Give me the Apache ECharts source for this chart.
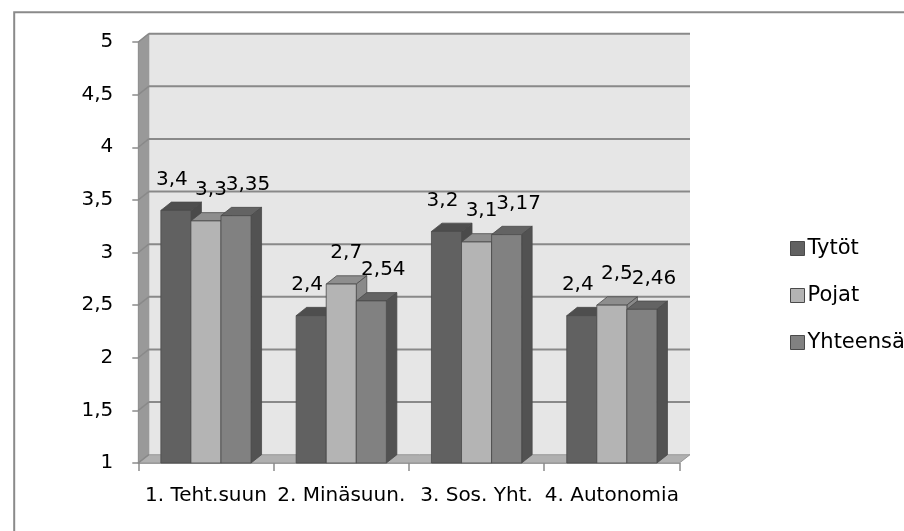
<!DOCTYPE html>
<html>
<head>
<meta charset="utf-8">
<script src="https://cdn.jsdelivr.net/npm/echarts@6/dist/echarts.min.js"></script>
<style>
  html, body { margin: 0; padding: 0; background: #fff; }
  #chart { width: 904px; height: 531px; }
</style>
</head>
<body>
<div id="chart"></div>
<script>
// Category names along the horizontal axis
const categories = ['1. Teht.suun', '2. Minäsuun.', '3. Sos. Yht.', '4. Autonomia'];

// Series values
const tytot = [3.4, 2.4, 3.2, 2.4];
const pojat = [3.3, 2.7, 3.1, 2.5];
const yhteensa = [3.35, 2.54, 3.17, 2.46];

const seriesNames = ['Tytöt', 'Pojat', 'Yhteensä'];

// Value-axis ticks
const yTicks = [1, 1.5, 2, 2.5, 3, 3.5, 4, 4.5, 5];

const Y_MIN = yTicks[0];
const Y_MAX = yTicks[yTicks.length - 1];
const Y_STEP = yTicks[1] - yTicks[0];

// Oblique depth of the pseudo-3D box and columns
const DX = 10.5, DY = -8.3;
const GAP = 1.5; // gap between groups, in column widths
const FAMILY = '"DejaVu Sans", sans-serif';
const FONT = '20px "DejaVu Sans", sans-serif';

const fmt = v => String(v).replace('.', ',');

// Face colours for each series: front, top, side
const palette = [
  { front: '#616161', top: '#4e4e4e', side: '#4a4a4a' },
  { front: '#b4b4b4', top: '#8e8e8e', side: '#8a8a8a' },
  { front: '#818181', top: '#636363', side: '#525252' }
];
const labelShift = [-4, 5, 12];

function columnRenderer(idx) {
  const c = palette[idx];
  return function (params, api) {
    const cat = api.value(0);
    const val = api.value(1);
    const base = api.coord([cat, Y_MIN]);
    const top = api.coord([cat, val]);
    const band = api.size([1, 0])[0];
    const w = band / (3 + GAP);
    const x0 = base[0] - 1.5 * w + idx * w;
    const x1 = x0 + w;
    const y0 = top[1];
    const y1 = base[1];
    const stroke = '#4a4a4a';
    return {
      type: 'group',
      children: [
        { type: 'polygon', shape: { points: [[x0, y0], [x0 + DX, y0 + DY], [x1 + DX, y0 + DY], [x1, y0]] },
          style: { fill: c.top, stroke: stroke, lineWidth: 0.8 } },
        { type: 'polygon', shape: { points: [[x1, y0], [x1 + DX, y0 + DY], [x1 + DX, y1 + DY], [x1, y1]] },
          style: { fill: c.side, stroke: stroke, lineWidth: 0.8 } },
        { type: 'rect', shape: { x: x0, y: y0, width: w, height: y1 - y0 },
          style: { fill: c.front, stroke: stroke, lineWidth: 0.8 } },
        { type: 'text', x: (x0 + x1) / 2 + labelShift[idx], y: y0 - 31, z2: 100,
          style: { text: fmt(val), font: FONT, fill: '#000', align: 'center', verticalAlign: 'middle' } }
      ]
    };
  };
}

// Back wall, side wall, floor and gridlines of the box
function frameRenderer(params, api) {
  const band = api.size([1, 0])[0];
  const L = api.coord([0, Y_MIN])[0] - band / 2;
  const R = api.coord([categories.length - 1, Y_MIN])[0] + band / 2;
  const yTop = api.coord([0, Y_MAX])[1];
  const yBot = api.coord([0, Y_MIN])[1];
  const grid = '#898989';
  const children = [
    { type: 'rect', shape: { x: L + DX, y: yTop + DY, width: R - L, height: yBot - yTop },
      style: { fill: '#e6e6e6' } },
    { type: 'polygon', shape: { points: [[L, yTop], [L + DX, yTop + DY], [L + DX, yBot + DY], [L, yBot]] },
      style: { fill: '#999999', stroke: '#8a8a8a', lineWidth: 0.8 } },
    { type: 'polygon', shape: { points: [[L, yBot], [L + DX, yBot + DY], [R + DX, yBot + DY], [R, yBot]] },
      style: { fill: '#b0b0b0', stroke: '#8a8a8a', lineWidth: 0.8 } }
  ];
  yTicks.forEach(t => {
    const y = api.coord([0, t])[1];
    children.push({ type: 'line', shape: { x1: L, y1: y, x2: L + DX, y2: y + DY },
      style: { stroke: grid, lineWidth: 1.5 } });
    if (t !== Y_MIN) {
      children.push({ type: 'line', shape: { x1: L + DX, y1: y + DY, x2: R + DX, y2: y + DY },
        style: { stroke: grid, lineWidth: 2 } });
    }
  });
  return { type: 'group', children: children };
}

const seriesValues = [tytot, pojat, yhteensa];

const chart = echarts.init(document.getElementById('chart'), null, { renderer: 'canvas' });

chart.setOption({
  animation: false,
  backgroundColor: '#ffffff',
  graphic: [{
    type: 'rect', left: 11.7, top: 9.7, silent: true,
    shape: { x: 0, y: 0, width: 1000, height: 600 },
    style: { fill: 'none', stroke: '#8a8a8a', lineWidth: 2 }
  }],
  grid: { left: 138.3, right: 224.5, top: 42, bottom: 68, containLabel: false },
  xAxis: {
    type: 'category',
    data: categories,
    axisLine: { show: true, lineStyle: { color: '#8c8c8c', width: 1.5 } },
    axisTick: { show: true, length: 8, lineStyle: { color: '#8c8c8c', width: 1.5 } },
    axisLabel: { color: '#000', fontSize: 20, fontFamily: FAMILY, margin: 23, interval: 0 },
    splitLine: { show: false }
  },
  yAxis: {
    type: 'value',
    min: Y_MIN, max: Y_MAX, interval: Y_STEP,
    axisLine: { show: true, lineStyle: { color: '#8c8c8c', width: 1.5 } },
    axisTick: { show: true, length: 6, lineStyle: { color: '#8c8c8c', width: 1.5 } },
    axisLabel: { color: '#000', fontSize: 20, fontFamily: FAMILY, margin: 25, formatter: fmt },
    splitLine: { show: false }
  },
  legend: {
    orient: 'vertical',
    left: 785, top: 233,
    itemWidth: 14, itemHeight: 14, itemGap: 26,
    icon: 'rect',
    textStyle: { color: '#000', fontSize: 21, fontFamily: FAMILY, lineHeight: 21, padding: [0, 0, 0, -2] },
    data: seriesNames.map((n, i) => ({ name: n, itemStyle: { color: palette[i].front, borderColor: '#4a4a4a', borderWidth: 1 } })),
    selectedMode: false
  },
  series: [
    {
      type: 'custom', name: 'frame', silent: true, z: 1,
      renderItem: frameRenderer,
      data: [[0, Y_MIN]],
      encode: { x: 0, y: 1 }
    }
  ].concat(seriesValues.map((vals, i) => ({
    type: 'custom',
    name: seriesNames[i],
    silent: true,
    z: 2,
    itemStyle: { color: palette[i].front },
    renderItem: columnRenderer(i),
    data: vals.map((v, k) => [k, v]),
    encode: { x: 0, y: 1 }
  })))
});
</script>
</body>
</html>
